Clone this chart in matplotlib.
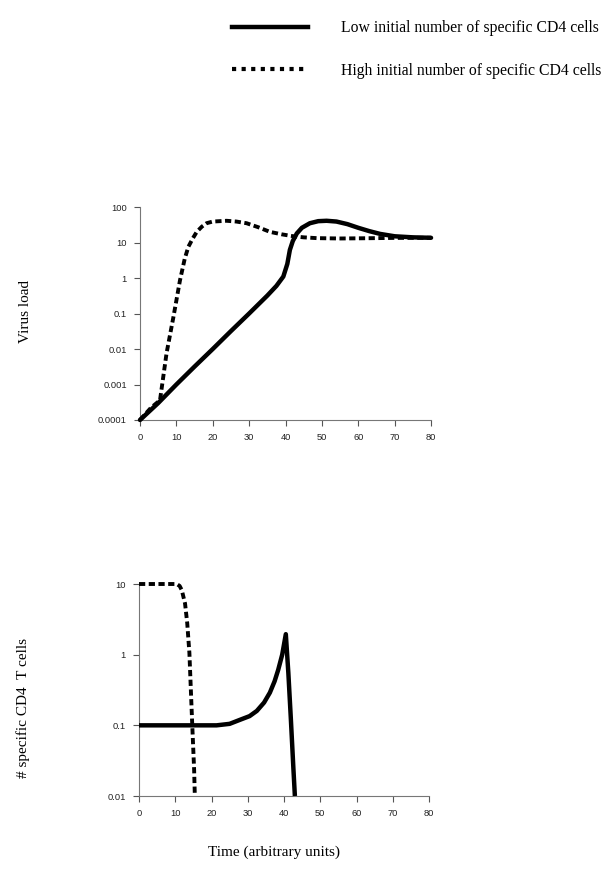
import matplotlib
matplotlib.use("Agg")
import matplotlib.pyplot as plt
from matplotlib.lines import Line2D
import numpy as np

# virus load, low initial number of specific CD4 cells (solid)
t_vl_low = [0, 5, 10, 15, 20, 25, 30, 35, 37.5, 39.4, 40.5, 41.2, 42, 43.1, 44.5, 46.7, 49, 51.3, 54, 57, 60, 63, 66, 70, 75, 80]
vl_low = [1e-4, 3e-4, 1e-3, 3.2e-3, 1e-2, 3.2e-2, 0.1, 0.32, 0.6, 1.1, 2.5, 6.2, 11, 18, 26, 35, 40, 41, 39, 33, 26, 21, 17.5, 15, 14, 13.6]
# virus load, high initial number (dashed)
t_vl_high = [0, 3, 5.5, 7.3, 9.2, 11, 12.3, 13.3, 14.5, 15.6, 17, 18.3, 20, 23.8, 26.5, 29.3, 32.5, 35.7, 39, 42.2, 45, 48.6, 55, 62, 70, 80]
vl_high = [1e-4, 2.2e-4, 3.6e-4, 7.6e-3, 0.081, 0.87, 3.5, 7.6, 13, 20, 28, 35, 39, 41, 39, 35, 27, 20, 17, 15, 14, 13.3, 13, 13.2, 13.5, 13.6]

# specific CD4 T cells, low (solid)
t_cd4_low = [0, 10, 21.4, 25, 27.9, 30.5, 32.5, 34.5, 36.1, 37.4, 38.4, 39.5, 40.5, 41.2, 41.9, 42.6, 43.0]
cd4_low = [0.1, 0.1, 0.1, 0.105, 0.12, 0.135, 0.16, 0.21, 0.29, 0.42, 0.61, 1.0, 1.95, 0.55, 0.12, 0.024, 0.01]
# specific CD4 T cells, high (dashed)
t_cd4_high = [0, 5, 10.4, 11.2, 11.8, 12.7, 13.3, 13.9, 14.3, 14.7, 15.2, 15.4]
cd4_high = [10, 10, 10, 9.4, 8.2, 5.3, 2.8, 1.06, 0.32, 0.098, 0.024, 0.01]

vl_ticks = [1e-4, 1e-3, 1e-2, 0.1, 1, 10, 100]
vl_ticklabels = ["0.0001", "0.001", "0.01", "0.1", "1", "10", "100"]
cd4_ticks = [0.01, 0.1, 1, 10]
cd4_ticklabels = ["0.01", "0.1", "1", "10"]
x_ticks = [0, 10, 20, 30, 40, 50, 60, 70, 80]

serif = "Liberation Serif"
sans = "Liberation Sans"
dash = (0, (1.6, 0.9))

fig = plt.figure(figsize=(6.14, 8.71), dpi=100)
ax1 = fig.add_axes([0.228, 0.5178, 0.474, 0.2445])
ax2 = fig.add_axes([0.2264, 0.0861, 0.4723, 0.2434])


def style(ax, yticks, ylabels, ylim):
    ax.set_yscale("log")
    ax.set_xlim(0, 80)
    ax.set_ylim(*ylim)
    ax.set_xticks(x_ticks)
    ax.set_xticklabels([str(v) for v in x_ticks], fontfamily=sans, fontsize=6.7)
    ax.set_yticks(yticks)
    ax.set_yticklabels(ylabels, fontfamily=sans, fontsize=6.7)
    ax.yaxis.set_minor_locator(plt.NullLocator())
    for s in ["top", "right"]:
        ax.spines[s].set_visible(False)
    for s in ["left", "bottom"]:
        ax.spines[s].set_color("#777777")
        ax.spines[s].set_linewidth(0.8)
    ax.tick_params(direction="out", length=4.5, width=0.8, color="#555555", pad=5, labelcolor="#222222")


ax1.plot(t_vl_low, vl_low, color="black", lw=3.2, solid_capstyle="round", clip_on=False, zorder=3)
ax1.plot(t_vl_high, vl_high, color="black", lw=2.8, linestyle=dash, clip_on=False, zorder=3)
style(ax1, vl_ticks, vl_ticklabels, (1e-4, 100))
ax1.text(-0.395, 0.51, "Virus load", transform=ax1.transAxes, rotation=90,
         ha="center", va="center", fontfamily=serif, fontsize=11)

ax2.plot(t_cd4_low, cd4_low, color="black", lw=3.2, solid_capstyle="butt", clip_on=False, zorder=3)
ax2.plot(t_cd4_high, cd4_high, color="black", lw=2.8, linestyle=dash, clip_on=False, zorder=3)
style(ax2, cd4_ticks, cd4_ticklabels, (0.01, 10))
ax2.text(-0.40, 0.415, "# specific CD4  T cells", transform=ax2.transAxes, rotation=90,
         ha="center", va="center", fontfamily=serif, fontsize=11)
ax2.text(0.465, -0.265, "Time (arbitrary units)", transform=ax2.transAxes,
         ha="center", va="center", fontfamily=serif, fontsize=11)

handles = [Line2D([], [], color="black", lw=3.2),
           Line2D([], [], color="black", lw=3.0, linestyle=(0, (1, 1.3)))]
labels = ["Low initial number of specific CD4 cells",
          "High initial number of specific CD4 cells"]
fig.legend(handles, labels, loc="upper left", bbox_to_anchor=(0.368, 0.984),
           frameon=False, prop={"family": serif, "size": 11.3},
           handlelength=4.85, handletextpad=2.05, labelspacing=1.7, borderaxespad=0)

fig.savefig("out.png", dpi=100)
